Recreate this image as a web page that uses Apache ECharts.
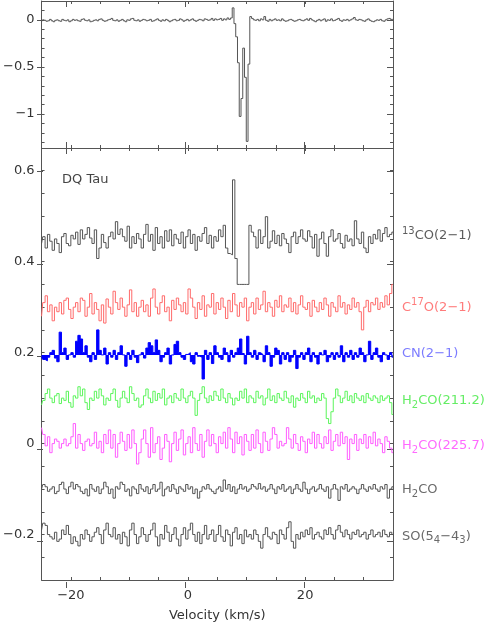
<!DOCTYPE html>
<html>
<head>
<meta charset="utf-8">
<script src="https://cdn.jsdelivr.net/npm/echarts@6/dist/echarts.min.js"></script>
<style>
html,body{margin:0;padding:0;background:#fff;}
#chart{width:484px;height:627px;}
</style>
</head>
<body>
<div id="chart"></div>
<script>
// ---------- DATA ----------
// top panel: channel width 0.3 km/s starting at -25 km/s
const topStart = -25, topStep = 0.3;
const topSpectrum = [
-0.01,0.0,-0.005,-0.015,-0.01,0.005,-0.01,-0.02,-0.005,0.0,-0.01,-0.015,0.005,-0.005,-0.01,0.0,-0.02,-0.01,0.005,-0.005,
0.0,-0.01,-0.015,0.005,0.01,-0.005,-0.01,0.0,-0.02,-0.015,-0.005,0.0,-0.01,0.005,0.01,-0.005,-0.015,-0.01,0.0,0.005,
0.015,-0.005,-0.01,0.0,-0.015,-0.005,0.005,-0.01,-0.02,0.0,-0.005,0.01,0.015,-0.005,-0.01,0.0,-0.015,-0.005,0.005,0.0,
-0.01,-0.005,0.005,-0.015,-0.01,0.0,0.01,-0.005,-0.015,0.0,-0.01,0.005,-0.005,-0.02,-0.01,0.0,0.005,-0.01,-0.005,0.01,
0.0,-0.015,-0.005,0.005,-0.01,0.0,0.01,-0.005,-0.015,-0.005,0.005,0.0,-0.01,0.01,0.005,-0.005,0.0,0.015,-0.005,0.01,
0.0,0.005,0.015,-0.005,0.01,0.0,0.02,0.005,0.02,0.127,-0.04,-0.18,-0.455,-1.025,-0.835,-0.3,-0.61,-1.29,-0.47,0.035,
0.015,0.0,-0.005,0.005,-0.01,0.01,0.0,0.035,-0.005,-0.015,0.005,-0.01,0.0,0.01,-0.005,0.0,-0.01,0.01,-0.005,-0.015,
-0.01,0.0,0.005,-0.005,-0.015,-0.01,0.0,0.005,-0.005,-0.01,0.0,0.01,-0.005,0.015,0.0,-0.01,-0.02,-0.005,0.005,-0.01,
0.0,0.01,-0.015,0.0,-0.005,0.01,-0.01,-0.005,0.005,0.015,-0.005,-0.015,0.0,-0.005,0.005,-0.01,0.0,0.01,0.025,0.0,
-0.005,0.005,0.0,-0.01,-0.015,0.0,0.01,-0.005,-0.015,-0.02,-0.01,0.0,-0.005,0.005,-0.01,-0.015,0.0,0.01,0.015,0.005,
0.005
];

// bottom panel: channel width 0.4 km/s starting at -25 km/s
const botStart = -25, botStep = 0.4;
const co13 = [
0.44,0.455,0.43,0.46,0.445,0.425,0.45,0.44,0.42,0.455,0.462,0.44,0.435,0.458,0.45,
0.465,0.438,0.47,0.45,0.46,0.475,0.452,0.44,0.47,0.407,0.43,0.46,0.442,0.43,0.455,
0.465,0.45,0.488,0.46,0.472,0.455,0.445,0.478,0.43,0.455,0.44,0.462,0.45,0.43,0.46,
0.482,0.445,0.46,0.425,0.475,0.44,0.455,0.43,0.468,0.445,0.47,0.435,0.46,0.45,0.44,
0.465,0.43,0.455,0.47,0.44,0.46,0.425,0.455,0.445,0.462,0.475,0.44,0.458,0.43,0.455,
0.445,0.47,0.455,0.48,0.43,0.418,0.415,0.58,0.407,0.35,0.35,0.35,0.35,0.35,0.48,
0.465,0.455,0.43,0.47,0.44,0.455,0.499,0.43,0.445,0.468,0.44,0.458,0.435,0.462,0.45,
0.44,0.42,0.455,0.465,0.44,0.455,0.47,0.45,0.445,0.468,0.455,0.43,0.46,0.412,0.45,
0.465,0.44,0.412,0.455,0.47,0.445,0.45,0.462,0.44,0.43,0.458,0.445,0.45,0.435,0.49,
0.45,0.44,0.465,0.43,0.42,0.455,0.44,0.46,0.45,0.47,0.445,0.462,0.475,0.455,0.46,
0.465
];
const c17o = [
0.28,0.31,0.325,0.29,0.305,0.27,0.3,0.29,0.31,0.285,0.315,0.32,0.295,0.275,0.3,
0.31,0.29,0.32,0.315,0.28,0.3,0.33,0.285,0.31,0.295,0.27,0.305,0.265,0.318,0.3,
0.285,0.335,0.31,0.295,0.32,0.3,0.28,0.305,0.338,0.29,0.31,0.28,0.3,0.315,0.29,
0.305,0.28,0.32,0.34,0.3,0.285,0.31,0.325,0.29,0.3,0.27,0.315,0.295,0.32,0.305,
0.29,0.31,0.285,0.34,0.32,0.3,0.275,0.31,0.295,0.325,0.28,0.305,0.3,0.33,0.285,
0.31,0.295,0.32,0.3,0.275,0.315,0.29,0.33,0.305,0.28,0.31,0.3,0.32,0.27,0.3,
0.31,0.285,0.32,0.295,0.305,0.335,0.29,0.31,0.3,0.28,0.315,0.3,0.325,0.29,0.305,
0.3,0.32,0.29,0.31,0.285,0.305,0.325,0.3,0.295,0.31,0.28,0.315,0.3,0.29,0.31,
0.295,0.32,0.305,0.28,0.31,0.3,0.29,0.325,0.3,0.31,0.285,0.305,0.295,0.32,0.3,
0.31,0.29,0.25,0.3,0.315,0.29,0.31,0.305,0.32,0.295,0.31,0.3,0.325,0.305,0.33,
0.35
];
const cnBase = 0.195;
const cn = [
0.19,0.185,0.182,0.19,0.2,0.205,0.188,0.18,0.245,0.2,0.21,0.185,0.195,0.2,0.19,
0.225,0.238,0.23,0.2,0.215,0.19,0.18,0.2,0.185,0.25,0.205,0.195,0.21,0.175,0.2,
0.19,0.205,0.185,0.2,0.215,0.195,0.17,0.2,0.185,0.205,0.19,0.178,0.195,0.2,0.188,
0.21,0.222,0.215,0.2,0.228,0.205,0.18,0.19,0.2,0.21,0.175,0.195,0.218,0.225,0.2,
0.19,0.185,0.196,0.2,0.18,0.175,0.2,0.192,0.19,0.142,0.205,0.185,0.2,0.176,0.215,
0.2,0.19,0.185,0.21,0.2,0.18,0.205,0.19,0.2,0.21,0.23,0.198,0.175,0.236,0.2,
0.19,0.205,0.185,0.2,0.196,0.18,0.215,0.2,0.17,0.19,0.21,0.205,0.175,0.2,0.185,
0.2,0.18,0.19,0.205,0.165,0.19,0.2,0.185,0.2,0.21,0.18,0.2,0.19,0.175,0.2,
0.195,0.205,0.18,0.19,0.2,0.185,0.2,0.19,0.215,0.18,0.2,0.19,0.205,0.185,0.2,
0.19,0.21,0.2,0.18,0.195,0.225,0.185,0.2,0.21,0.19,0.18,0.2,0.195,0.185,0.2,
0.19
];
const h2co211 = [
0.085,0.095,0.11,0.12,0.1,0.09,0.105,0.11,0.088,0.1,0.095,0.115,0.09,0.08,0.105,
0.1,0.125,0.105,0.12,0.09,0.075,0.1,0.095,0.115,0.1,0.12,0.105,0.085,0.1,0.095,
0.11,0.12,0.095,0.08,0.1,0.115,0.1,0.09,0.125,0.11,0.095,0.1,0.08,0.085,0.105,
0.12,0.1,0.09,0.115,0.095,0.11,0.1,0.12,0.085,0.1,0.105,0.09,0.11,0.1,0.095,
0.12,0.1,0.09,0.105,0.115,0.1,0.062,0.095,0.11,0.125,0.1,0.09,0.105,0.095,0.115,
0.105,0.095,0.12,0.1,0.09,0.11,0.1,0.085,0.1,0.095,0.115,0.1,0.12,0.09,0.105,
0.1,0.09,0.115,0.1,0.105,0.085,0.1,0.12,0.095,0.105,0.09,0.11,0.1,0.095,0.115,
0.1,0.09,0.105,0.08,0.1,0.095,0.11,0.1,0.09,0.115,0.1,0.105,0.09,0.1,0.095,
0.11,0.1,0.055,0.044,0.07,0.1,0.12,0.105,0.09,0.1,0.115,0.095,0.105,0.09,0.11,
0.1,0.095,0.105,0.09,0.11,0.1,0.095,0.105,0.1,0.09,0.105,0.095,0.1,0.105,0.09,
0.064
];
const h2co225 = [
0.035,0.02,-0.005,0.015,-0.02,0.0,0.01,0.005,-0.01,0.0,0.01,-0.005,0.0,0.015,0.044,
-0.01,0.02,0.0,-0.015,0.005,0.01,-0.005,0.0,0.025,-0.01,0.005,-0.02,0.02,0.0,0.03,
-0.01,0.02,-0.03,0.0,0.025,0.005,-0.015,0.02,-0.01,0.03,0.0,-0.045,-0.02,0.01,0.03,
0.0,-0.03,0.035,-0.02,0.0,0.015,-0.035,-0.01,0.02,0.005,-0.04,0.0,0.025,-0.015,0.01,
0.03,-0.025,0.0,0.015,-0.02,0.035,0.0,-0.015,0.02,-0.03,0.005,0.03,-0.005,0.02,0.0,
-0.02,0.015,0.0,0.025,-0.01,0.035,0.01,-0.02,0.025,0.0,0.015,-0.025,0.02,0.005,-0.015,
0.02,-0.01,0.03,0.0,-0.02,0.025,0.005,-0.015,0.01,0.035,0.02,-0.01,0.005,-0.005,0.0,
0.035,0.01,-0.01,0.02,0.0,-0.015,0.015,0.005,-0.02,0.01,0.0,0.025,-0.01,0.02,0.0,
-0.01,0.015,0.0,0.03,-0.015,0.005,0.02,-0.005,0.025,0.0,0.015,-0.035,0.01,0.0,0.02,
-0.015,0.01,0.0,0.02,-0.01,0.015,0.0,0.025,-0.005,0.01,0.0,-0.02,0.015,0.005,-0.01,
-0.02
];
const h2co = [
-0.1,-0.09,-0.095,-0.105,-0.1,-0.095,-0.11,-0.105,-0.09,-0.085,-0.1,-0.11,-0.095,-0.085,-0.1,
-0.09,-0.095,-0.105,-0.11,-0.1,-0.115,-0.09,-0.1,-0.105,-0.095,-0.11,-0.1,-0.085,-0.095,-0.11,
-0.1,-0.12,-0.095,-0.1,-0.085,-0.09,-0.105,-0.1,-0.115,-0.095,-0.1,-0.11,-0.09,-0.1,-0.105,
-0.095,-0.11,-0.1,-0.09,-0.105,-0.1,-0.085,-0.115,-0.1,-0.095,-0.105,-0.09,-0.1,-0.11,-0.095,
-0.1,-0.105,-0.09,-0.1,-0.095,-0.11,-0.1,-0.12,-0.105,-0.095,-0.1,-0.09,-0.1,-0.105,-0.11,
-0.1,-0.095,-0.105,-0.08,-0.1,-0.09,-0.105,-0.095,-0.11,-0.1,-0.09,-0.1,-0.095,-0.105,-0.1,
-0.09,-0.095,-0.1,-0.088,-0.1,-0.095,-0.105,-0.1,-0.09,-0.1,-0.11,-0.095,-0.1,-0.09,-0.105,
-0.1,-0.095,-0.11,-0.1,-0.09,-0.1,-0.105,-0.085,-0.1,-0.11,-0.1,-0.095,-0.105,-0.1,-0.09,
-0.1,-0.105,-0.095,-0.12,-0.1,-0.09,-0.1,-0.125,-0.095,-0.1,-0.09,-0.105,-0.1,-0.095,-0.1,
-0.11,-0.1,-0.09,-0.1,-0.105,-0.095,-0.1,-0.09,-0.1,-0.105,-0.095,-0.1,-0.09,-0.12,-0.1,
-0.095
];
const so = [
-0.19,-0.175,-0.18,-0.2,-0.205,-0.21,-0.195,-0.215,-0.21,-0.19,-0.2,-0.18,-0.2,-0.22,-0.205,
-0.215,-0.225,-0.2,-0.21,-0.19,-0.2,-0.215,-0.205,-0.195,-0.185,-0.2,-0.22,-0.19,-0.175,-0.2,
-0.205,-0.185,-0.21,-0.2,-0.22,-0.195,-0.205,-0.225,-0.19,-0.175,-0.2,-0.22,-0.205,-0.185,-0.2,
-0.215,-0.2,-0.19,-0.175,-0.205,-0.225,-0.2,-0.21,-0.18,-0.195,-0.215,-0.2,-0.185,-0.21,-0.225,
-0.2,-0.185,-0.21,-0.19,-0.175,-0.2,-0.215,-0.195,-0.22,-0.2,-0.18,-0.21,-0.2,-0.19,-0.215,
-0.2,-0.18,-0.205,-0.215,-0.19,-0.2,-0.225,-0.195,-0.185,-0.21,-0.2,-0.22,-0.19,-0.205,-0.2,
-0.21,-0.19,-0.2,-0.215,-0.23,-0.2,-0.185,-0.205,-0.21,-0.195,-0.2,-0.22,-0.19,-0.2,-0.21,
-0.185,-0.172,-0.215,-0.23,-0.2,-0.21,-0.195,-0.205,-0.19,-0.2,-0.185,-0.21,-0.2,-0.195,-0.205,
-0.21,-0.19,-0.2,-0.185,-0.2,-0.21,-0.19,-0.18,-0.195,-0.205,-0.19,-0.2,-0.21,-0.195,-0.2,
-0.19,-0.205,-0.2,-0.195,-0.21,-0.2,-0.19,-0.205,-0.2,-0.195,-0.205,-0.19,-0.2,-0.205,-0.195,
-0.2
];

// species labels (rich-text markup for sub/superscripts) and the levels they sit at
const speciesNames = [
  '{sup|13}{n|CO(2−1)}',
  '{n|C}{sup|17}{n|O(2−1)}',
  '{n|CN(2−1)}',
  '{n|H}{sub|2}{n|CO(211.2)}',
  '{n|H}{sub|2}{n|CO(225.7)}',
  '{n|H}{sub|2}{n|CO}',
  '{n|SO(5}{sub|4}{n|−4}{sub|3}{n|)}'
];
const speciesLevels = [0.457, 0.300, 0.198, 0.094, -0.005, -0.102, -0.204];

// axis ranges and ticks
const xMin = -25, xMax = 35;
const xMinorTicks = [-25,-20,-15,-10,-5,0,5,10,15,20,25,30,35];
const xMajorTicks = [-20,0,20];
const topYMin = -1.36, topYMax = 0.2;
const topYMinor = [-1.3,-1.2,-1.1,-1,-0.9,-0.8,-0.7,-0.6,-0.5,-0.4,-0.3,-0.2,-0.1,0,0.1];
const topYMajor = [-1,-0.5,0];
const botYMin = -0.3, botYMax = 0.65;
const botYMinor = [-0.25,-0.2,-0.15,-0.1,-0.05,0,0.05,0.1,0.15,0.2,0.25,0.3,0.35,0.4,0.45,0.5,0.55,0.6];
const botYMajor = [-0.2,0,0.2,0.4,0.6];

// ---------- CHART ----------
const FONT = 'DejaVu Sans';
const FRAME = '#555';
const TXT = '#444';
const fmt = v => String(v).replace('-', '−');

function pairs(vals, start, step) {
  return vals.map((y, i) => [+(start + step * i).toFixed(3), y]);
}

const topRect = {left: 37, top: 1, width: 356, height: 147};
const botRect = {left: 37, top: 148, width: 356, height: 440};

function xAx(grid, pos, ticks, len, showLine, labels, name) {
  return {
    type: 'value', gridIndex: grid, position: pos, min: xMin, max: xMax,
    axisLine: {show: showLine, onZero: false, lineStyle: {color: FRAME, width: 1}},
    axisTick: {show: true, inside: true, length: len, customValues: ticks, lineStyle: {color: FRAME, width: 1}},
    axisLabel: labels ? {show: true, customValues: labels, formatter: fmt, color: '#333', fontSize: 13, fontFamily: FONT, margin: 9} : {show: false},
    splitLine: {show: false},
    name: name || '', nameLocation: 'middle', nameGap: 29,
    nameTextStyle: {color: '#333', fontSize: 13, fontFamily: FONT}
  };
}
function yAx(grid, pos, min, max, ticks, len, showLine, labels) {
  return {
    type: 'value', gridIndex: grid, position: pos, min: min, max: max,
    axisLine: {show: showLine, onZero: false, lineStyle: {color: FRAME, width: 1}},
    axisTick: {show: true, inside: true, length: len, customValues: ticks, lineStyle: {color: FRAME, width: 1}},
    axisLabel: labels ? {show: true, customValues: labels, formatter: fmt, color: '#333', fontSize: 13, fontFamily: FONT, margin: 7} : {show: false},
    splitLine: {show: false}
  };
}

const xAxis = [
  xAx(0, 'bottom', xMinorTicks, 3, true, null),
  xAx(0, 'top', xMinorTicks, 3, true, null),
  xAx(1, 'bottom', xMinorTicks, 3, true, xMajorTicks, 'Velocity (km/s)'),
  xAx(1, 'top', xMinorTicks, 3, true, null),
  xAx(2, 'bottom', xMajorTicks, 6, false, null),
  xAx(2, 'top', xMajorTicks, 6, false, null),
  xAx(3, 'bottom', xMajorTicks, 6, false, null),
  xAx(3, 'top', xMajorTicks, 6, false, null)
];
const yAxis = [
  yAx(0, 'left', topYMin, topYMax, topYMinor, 3, true, topYMajor),
  yAx(0, 'right', topYMin, topYMax, topYMinor, 3, true, null),
  yAx(1, 'left', botYMin, botYMax, botYMinor, 3, true, botYMajor),
  yAx(1, 'right', botYMin, botYMax, botYMinor, 3, true, null),
  yAx(2, 'left', topYMin, topYMax, topYMajor, 6, false, null),
  yAx(2, 'right', topYMin, topYMax, topYMajor, 6, false, null),
  yAx(3, 'left', botYMin, botYMax, botYMajor, 6, false, null),
  yAx(3, 'right', botYMin, botYMax, botYMajor, 6, false, null)
];

function specLine(vals, color, width, extra) {
  return Object.assign({
    type: 'line', xAxisIndex: 2, yAxisIndex: 2,
    data: pairs(vals, botStart, botStep),
    step: 'middle', showSymbol: false, symbol: 'none',
    lineStyle: {color: color, width: width}, silent: true
  }, extra || {});
}

// top spectrum: histogram steps drawn per channel (channels narrower than 2px)
const topData = topSpectrum.map((y, i) => [+(topStart + topStep * i).toFixed(3), y, i > 0 ? topSpectrum[i - 1] : y]);
const topSeries = {
  type: 'custom', coordinateSystem: 'cartesian2d', xAxisIndex: 0, yAxisIndex: 0,
  data: topData, encode: {x: 0, y: 1}, silent: true,
  renderItem: function (params, api) {
    const x = api.value(0), y = api.value(1), yp = api.value(2);
    const xl = Math.max(xMin, x - topStep / 2), xr = Math.min(xMax, x + topStep / 2);
    return {
      type: 'polyline',
      shape: {points: [api.coord([xl, yp]), api.coord([xl, y]), api.coord([xr, y])]},
      style: {stroke: '#555', lineWidth: 1, fill: null}
    };
  }
};

const labelColors = ['#333', '#ff5a5a', '#5a5aff', '#3ee83e', '#ff44ff', '#444', '#444'];
function richFor(c) {
  return {
    n: {color: c, fontSize: 13, fontFamily: FONT, lineHeight: 19},
    sup: {color: c, fontSize: 10, fontFamily: FONT, lineHeight: 10, verticalAlign: 'top'},
    sub: {color: c, fontSize: 10, fontFamily: FONT, lineHeight: 10, verticalAlign: 'bottom'}
  };
}

const series = [
  topSeries,
  specLine(co13, '#555', 1),
  specLine(c17o, '#ff6b6b', 1),
  specLine(cn, '#0000ff', 1, {areaStyle: {color: '#0000ff', opacity: 1, origin: cnBase}}),
  specLine(h2co211, '#5cf55c', 1),
  specLine(h2co225, '#ff5cff', 1),
  specLine(h2co, '#555', 1),
  specLine(so, '#555', 1),
  {
    type: 'scatter', xAxisIndex: 2, yAxisIndex: 2, symbolSize: 0, silent: true, clip: false,
    data: speciesNames.map((n, i) => ({
      value: [xMax, speciesLevels[i]],
      label: {show: true, position: 'right', distance: 9, formatter: n, color: labelColors[i],
              fontSize: 13, fontFamily: FONT, rich: richFor(labelColors[i])}
    }))
  }
];

const chart = echarts.init(document.getElementById('chart'), null, {renderer: 'canvas'});
chart.setOption({
  animation: false,
  backgroundColor: '#fff',
  title: {text: 'DQ Tau', left: 57, top: 168, textStyle: {color: TXT, fontSize: 13, fontWeight: 'normal', fontFamily: FONT}},
  grid: [topRect, botRect, topRect, botRect],
  xAxis: xAxis,
  yAxis: yAxis,
  series: series
});
</script>
</body>
</html>
